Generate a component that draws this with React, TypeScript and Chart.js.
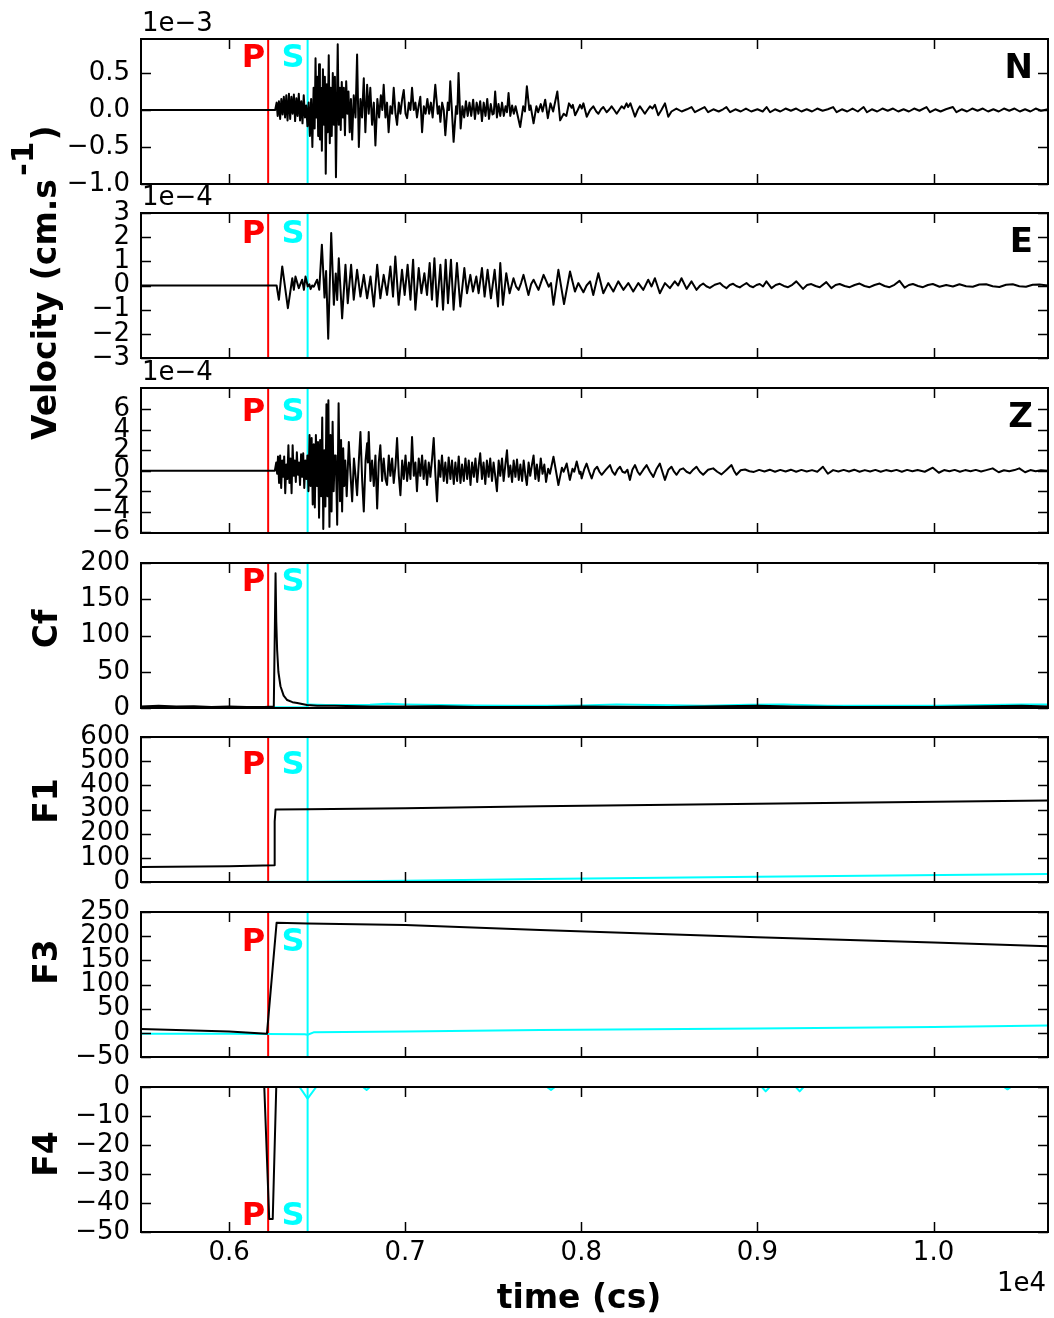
import React, { useEffect, useRef } from 'react';
import { Chart, registerables } from 'chart.js';

Chart.register(...registerables);

const FONT = '"DejaVu Sans", sans-serif';

// ---------------- data ----------------
const xMin = 5500;
const xMax = 10650;
const xTickValues = [6000, 7000, 8000, 9000, 10000];
const xTickLabels = ['0.6', '0.7', '0.8', '0.9', '1.0'];
const pickP = 6222;
const pickS = 6446;

// North component, units of 1e-3 cm/s
const northTrace: [number, number][] = [
  [5500, 0], [6262, 0], [6270, 0.1], [6276, -0.08], [6283, 0.12], [6290, -0.12], [6297, 0.15], [6304, -0.06],
  [6311, 0.18], [6318, -0.1], [6325, 0.2], [6332, -0.14], [6340, 0.22], [6347, -0.12], [6354, 0.18], [6361, -0.05],
  [6368, 0.21], [6375, -0.15], [6382, 0.16], [6389, -0.08], [6396, 0.22], [6403, -0.14], [6410, 0.12], [6417, -0.18],
  [6424, 0.2], [6431, -0.1], [6438, 0.06], [6445, -0.22], [6452, 0.1], [6459, -0.35], [6466, 0.15], [6473, -0.5],
  [6480, 0.3], [6486, -0.25], [6491, 0.7], [6496, -0.1], [6501, 0.45], [6506, -0.35], [6511, 0.62], [6516, -0.4],
  [6521, 0.3], [6527, -0.55], [6533, 0.55], [6539, -0.2], [6544, 0.45], [6549, -0.86], [6555, 0.35], [6560, -0.3],
  [6566, 0.74], [6572, -0.45], [6577, 0.3], [6583, -0.35], [6589, 0.5], [6595, -0.2], [6601, 0.45], [6607, -0.91],
  [6617, 0.89], [6623, -0.2], [6629, 0.3], [6634, -0.27], [6640, 0.38], [6646, -0.1], [6652, 0.3], [6658, -0.34],
  [6665, 0.39], [6672, -0.05], [6678, 0.25], [6685, -0.3], [6692, 0.15], [6699, -0.4], [6708, 0.2], [6718, -0.1],
  [6727, 0.75], [6737, -0.5], [6746, 0.15], [6755, -0.1], [6765, 0.43], [6774, -0.3], [6784, 0.34], [6793, -0.05],
  [6802, 0.3], [6812, -0.2], [6822, 0.1], [6831, -0.48], [6842, 0.15], [6852, -0.1], [6862, 0.2], [6870, 0.0],
  [6878, 0.34], [6888, -0.1], [6897, 0.1], [6906, -0.3], [6916, 0.05], [6926, -0.05], [6935, 0.3], [6945, -0.05],
  [6954, -0.2], [6964, 0.1], [6973, -0.05], [6983, 0.15], [6992, 0.27], [7002, -0.05], [7011, -0.11], [7021, 0.1],
  [7030, 0.0], [7039, 0.3], [7049, 0.0], [7058, 0.1], [7067, -0.1], [7076, 0.05], [7086, 0.18], [7096, -0.3],
  [7106, 0.05], [7116, -0.05], [7126, 0.15], [7136, -0.05], [7146, 0.1], [7156, -0.1], [7171, 0.34], [7185, -0.05],
  [7193, 0.05], [7200, -0.16], [7210, 0.1], [7219, 0.0], [7228, -0.34], [7242, 0.1], [7249, 0.0], [7256, 0.39],
  [7275, -0.43], [7289, 0.05], [7296, -0.05], [7303, 0.5], [7315, -0.25], [7325, 0.05], [7335, -0.1], [7345, 0.12],
  [7355, -0.08], [7365, 0.1], [7375, -0.08], [7386, 0.14], [7396, -0.12], [7406, 0.1], [7416, -0.05], [7426, 0.12],
  [7436, -0.15], [7446, 0.1], [7456, -0.08], [7466, 0.15], [7476, -0.12], [7486, 0.08], [7496, -0.06], [7503, -0.05],
  [7511, 0.25], [7521, -0.1], [7530, 0.08], [7540, -0.08], [7550, 0.1], [7560, -0.08], [7570, 0.05], [7578, -0.03],
  [7587, 0.23], [7597, -0.08], [7607, 0.06], [7617, -0.05], [7627, 0.05], [7653, -0.23], [7670, 0.05], [7680, -0.02],
  [7691, 0.32], [7705, 0.0], [7712, 0.06], [7729, -0.18], [7745, 0.05], [7755, -0.03], [7770, 0.08], [7780, -0.02],
  [7795, 0.14], [7810, -0.11], [7825, 0.09], [7840, -0.02], [7864, 0.25], [7880, -0.14], [7900, -0.05], [7915, -0.08],
  [7930, 0.09], [7945, 0.03], [7952, 0.07], [7965, -0.07], [7980, 0.0], [7993, 0.07], [8003, 0.02], [8012, 0.09],
  [8031, -0.09], [8050, 0.0], [8068, 0.05], [8085, -0.02], [8097, -0.05], [8112, 0.01], [8125, 0.04], [8144, -0.03],
  [8160, 0.01], [8172, 0.05], [8187, 0.0], [8201, -0.05], [8215, 0.0], [8229, 0.05], [8243, 0.02], [8257, 0.09],
  [8266, 0.04], [8279, 0.09], [8292, 0.0], [8305, -0.09], [8320, 0.0], [8333, 0.05], [8347, 0.0], [8361, -0.05],
  [8375, 0.0], [8390, 0.05], [8404, 0.02], [8418, 0.07], [8437, -0.07], [8455, 0.0], [8475, 0.09], [8494, -0.09],
  [8512, -0.02], [8540, 0.02], [8570, -0.02], [8600, 0.01], [8626, 0.04], [8645, -0.03], [8675, 0.01], [8700, 0.04],
  [8720, -0.03], [8750, 0.01], [8780, -0.02], [8805, 0.01], [8824, 0.04], [8845, -0.03], [8875, 0.01], [8905, -0.02],
  [8935, 0.02], [8965, -0.02], [9000, 0.01], [9030, -0.02], [9052, 0.04], [9072, -0.03], [9100, 0.01], [9130, -0.02],
  [9160, 0.02], [9190, -0.01], [9220, 0.02], [9250, -0.02], [9280, 0.01], [9310, -0.02], [9340, 0.02], [9370, -0.01],
  [9400, 0.01], [9430, 0.04], [9450, -0.03], [9480, 0.01], [9510, -0.02], [9540, 0.02], [9570, -0.02], [9603, 0.04],
  [9622, -0.03], [9650, 0.01], [9680, -0.02], [9710, 0.02], [9740, -0.01], [9770, 0.02], [9800, -0.02], [9830, 0.01],
  [9860, -0.02], [9890, 0.02], [9920, -0.01], [9960, 0.04], [9980, -0.03], [10010, 0.01], [10040, -0.02], [10070, 0.01],
  [10110, 0.04], [10130, -0.03], [10160, 0.01], [10190, -0.02], [10220, 0.02], [10250, -0.01], [10280, 0.02], [10310, -0.02],
  [10340, 0.01], [10370, -0.02], [10400, 0.02], [10430, -0.01], [10460, 0.02], [10490, -0.02], [10520, 0.01], [10550, -0.02],
  [10580, 0.02], [10610, -0.01], [10650, 0.01],
];

// East component, units of 1e-4 cm/s
const eastTrace: [number, number][] = [
  [5500, 0], [6270, 0], [6283, -0.59], [6302, 0.79], [6334, -0.94], [6359, 0.3], [6368, -0.18], [6377, 0.37],
  [6396, -0.11], [6415, 0.24], [6425, -0.18], [6434, 0.37], [6447, -0.04], [6456, 0.05], [6463, -0.15], [6472, 0.0],
  [6481, -0.05], [6500, 0.24], [6512, -0.18], [6527, 1.69], [6542, -0.5], [6551, 0.6], [6563, -2.2], [6580, 2.17],
  [6595, -0.8], [6606, 0.5], [6614, -0.6], [6623, 1.13], [6642, -1.36], [6661, 0.86], [6674, -0.73], [6693, 0.86],
  [6708, -0.59], [6727, 0.65], [6746, -0.46], [6765, 0.44], [6784, -0.53], [6803, 0.37], [6822, -0.87], [6841, 0.86],
  [6859, -0.53], [6878, 0.44], [6897, -0.39], [6916, 0.79], [6931, -0.46], [6944, 1.2], [6963, -0.8], [6982, 0.65],
  [6997, -0.39], [7014, 0.86], [7030, -0.59], [7045, 1.07], [7058, -1.0], [7077, 0.72], [7092, -0.32], [7109, 0.51],
  [7124, -0.39], [7139, 0.93], [7152, -0.59], [7166, 1.13], [7181, -0.87], [7200, 0.86], [7215, -1.0], [7230, 1.07],
  [7243, -0.73], [7260, 1.07], [7275, -1.0], [7294, 0.93], [7313, -0.87], [7336, 0.72], [7351, -0.32], [7370, 0.44],
  [7385, -0.25], [7404, 0.37], [7417, -0.32], [7436, 0.72], [7451, -0.46], [7468, 0.65], [7487, -0.53], [7508, 0.65],
  [7527, -0.87], [7540, 0.93], [7555, -0.8], [7574, 0.51], [7593, -0.32], [7615, 0.3], [7630, -0.05], [7644, -0.18],
  [7658, 0.1], [7672, 0.44], [7700, -0.39], [7715, 0.05], [7729, 0.24], [7757, -0.18], [7786, 0.44], [7815, -0.05],
  [7828, 0.1], [7842, -0.8], [7870, 0.65], [7902, -0.77], [7936, 0.58], [7964, -0.25], [7983, 0.1], [8012, -0.28],
  [8030, 0.0], [8050, 0.17], [8068, -0.39], [8097, 0.51], [8125, -0.32], [8153, 0.1], [8182, -0.25], [8210, 0.17],
  [8239, -0.18], [8267, 0.1], [8295, -0.25], [8324, 0.1], [8352, -0.18], [8380, 0.24], [8399, -0.04], [8418, 0.3],
  [8446, -0.32], [8475, 0.1], [8503, -0.11], [8531, 0.17], [8550, 0.0], [8569, 0.3], [8598, -0.14], [8626, 0.17],
  [8654, -0.18], [8675, 0.0], [8692, 0.08], [8710, -0.03], [8730, -0.1], [8758, 0.03], [8787, 0.1], [8805, -0.02],
  [8824, -0.11], [8843, 0.02], [8862, 0.07], [8880, -0.02], [8900, -0.08], [8920, 0.02], [8938, 0.1], [8957, -0.02],
  [8976, -0.07], [8995, 0.02], [9013, 0.06], [9032, -0.04], [9051, 0.17], [9080, -0.11], [9104, 0.02], [9127, 0.07],
  [9150, -0.02], [9174, -0.07], [9198, 0.03], [9221, 0.17], [9259, -0.14], [9282, 0.02], [9306, 0.06], [9330, -0.02],
  [9354, -0.07], [9391, 0.14], [9420, -0.11], [9444, 0.02], [9467, 0.06], [9495, -0.02], [9524, -0.07], [9552, 0.02],
  [9580, 0.08], [9608, -0.02], [9637, -0.07], [9665, 0.02], [9694, 0.08], [9722, -0.02], [9750, -0.07], [9778, 0.03],
  [9807, 0.19], [9836, -0.09], [9860, 0.02], [9883, 0.06], [9912, -0.02], [9940, -0.07], [9968, 0.02], [9996, 0.06],
  [10034, -0.05], [10072, 0.02], [10110, -0.04], [10147, 0.05], [10185, -0.03], [10223, -0.05], [10260, 0.04], [10299, 0.05],
  [10336, -0.03], [10374, -0.06], [10412, 0.03], [10450, 0.05], [10487, -0.03], [10525, -0.05], [10563, 0.03], [10601, 0.04],
  [10650, 0.0],
];

// Vertical component, units of 1e-4 cm/s
const verticalTrace: [number, number][] = [
  [5500, 0], [6260, 0], [6268, 0.8], [6273, -0.3], [6278, 1.4], [6284, -1.2], [6290, 1.5], [6296, -1.7],
  [6302, 1.0], [6308, -0.6], [6313, 1.4], [6319, -2.2], [6325, 0.6], [6331, -0.8], [6337, 2.5], [6343, -1.2],
  [6349, 1.2], [6355, -2.2], [6361, 2.5], [6367, -0.5], [6373, 1.0], [6379, -1.1], [6385, 1.8], [6391, -0.4],
  [6397, 0.8], [6403, -1.4], [6409, 1.6], [6415, -0.6], [6421, 1.7], [6427, -1.7], [6433, 1.0], [6439, -0.8],
  [6445, 1.5], [6451, -2.0], [6457, 3.5], [6463, -1.5], [6469, 3.2], [6475, -3.3], [6481, 2.6], [6487, -3.6],
  [6493, 3.5], [6499, -1.5], [6505, 2.8], [6511, -4.6], [6517, 3.0], [6523, -2.5], [6529, 5.2], [6535, -5.7],
  [6541, 2.0], [6547, -3.5], [6553, 6.5], [6559, -2.5], [6564, 6.9], [6570, -5.5], [6576, 3.5], [6582, -4.0],
  [6588, 4.8], [6594, -2.0], [6600, 1.5], [6606, 1.5], [6614, -5.3], [6622, 6.6], [6630, -3.0], [6636, 3.0],
  [6642, -4.0], [6648, 2.2], [6654, -1.5], [6660, 1.0], [6668, -2.5], [6680, 2.8], [6690, -0.5], [6699, -3.0],
  [6709, 1.2], [6718, -0.5], [6727, -2.4], [6737, 1.0], [6746, 3.8], [6756, -1.0], [6765, -4.0], [6775, 1.0],
  [6784, 2.7], [6788, 0.8], [6793, 3.8], [6803, -1.0], [6812, 1.0], [6822, -1.5], [6831, 1.5], [6841, -3.7],
  [6850, 0.8], [6859, 2.5], [6869, -1.0], [6878, 1.2], [6888, -0.8], [6897, -1.4], [6907, 1.5], [6916, -0.5],
  [6926, 1.2], [6935, -1.2], [6945, 0.5], [6954, 3.2], [6964, -0.5], [6973, -2.4], [6983, 1.0], [6992, -0.8],
  [7002, 1.5], [7011, -1.0], [7021, 0.8], [7030, -0.8], [7039, 3.3], [7049, -0.5], [7058, 0.8], [7067, -2.0],
  [7077, 1.2], [7086, -0.5], [7096, 1.5], [7105, -0.8], [7115, 1.0], [7124, -1.4], [7134, 0.8], [7143, -0.6],
  [7153, 1.2], [7162, 3.2], [7172, -0.5], [7181, -3.0], [7191, 1.0], [7200, -0.6], [7209, 1.5], [7219, -1.0],
  [7228, 0.8], [7238, -1.2], [7247, 1.3], [7257, -0.8], [7266, 1.0], [7276, -1.3], [7285, 0.8], [7295, -1.0],
  [7304, 1.4], [7314, -1.2], [7323, 0.6], [7333, -1.0], [7342, 1.2], [7352, -0.8], [7361, 1.0], [7371, -1.4],
  [7380, 0.8], [7390, -0.6], [7399, 1.2], [7409, -1.1], [7418, 0.6], [7426, 1.7], [7436, -0.8], [7445, 0.8],
  [7455, -1.3], [7464, 1.0], [7474, -0.6], [7483, 1.2], [7493, -1.0], [7502, 0.8], [7512, -0.6], [7521, -2.0],
  [7531, 1.0], [7540, -0.5], [7550, 1.2], [7559, -1.0], [7569, 0.6], [7578, 2.0], [7588, -0.6], [7597, 0.5],
  [7607, -1.1], [7616, 1.0], [7626, -0.6], [7635, 1.1], [7645, -0.9], [7654, 0.6], [7664, -1.0], [7673, 1.0],
  [7683, -0.5], [7691, -1.4], [7701, 0.8], [7710, -0.5], [7720, 0.6], [7729, 1.5], [7739, -0.8], [7748, 0.6],
  [7758, -1.0], [7770, 1.2], [7780, -0.3], [7790, 0.6], [7800, -1.1], [7812, 0.2], [7822, -0.3], [7842, 1.37],
  [7856, 0.0], [7870, -1.4], [7890, 0.3], [7900, -0.1], [7917, 0.7], [7935, -0.9], [7950, 0.2], [7960, -0.1],
  [7974, 0.9], [7990, -0.3], [7996, -0.1], [8002, -0.75], [8016, 0.1], [8030, 0.7], [8045, -0.1], [8059, -0.75],
  [8075, 0.1], [8090, 0.39], [8103, -0.1], [8116, -0.4], [8140, 0.1], [8163, 0.55], [8177, -0.1], [8191, -0.4],
  [8205, 0.1], [8220, 0.39], [8234, -0.1], [8248, -0.2], [8262, 0.1], [8276, -0.9], [8290, 0.1], [8305, 0.55],
  [8320, -0.1], [8333, -0.4], [8352, 0.1], [8371, 0.55], [8390, -0.1], [8409, -0.6], [8428, 0.2], [8446, 0.7],
  [8462, -0.2], [8475, -0.9], [8495, 0.1], [8512, 0.39], [8527, -0.1], [8541, -0.4], [8560, 0.1], [8579, 0.23],
  [8598, -0.1], [8617, -0.26], [8635, 0.1], [8654, 0.39], [8673, -0.1], [8692, -0.4], [8720, 0.1], [8749, 0.23],
  [8772, -0.1], [8796, -0.36], [8825, 0.1], [8853, 0.55], [8867, 0.0], [8881, -0.4], [8905, 0.05], [8930, 0.12],
  [8955, -0.05], [8980, -0.12], [9010, 0.08], [9040, -0.08], [9070, 0.1], [9100, -0.1], [9130, 0.08], [9160, -0.08],
  [9190, 0.1], [9220, -0.1], [9250, 0.08], [9280, -0.08], [9310, 0.06], [9340, -0.1], [9372, 0.39], [9400, -0.3],
  [9430, 0.06], [9460, -0.08], [9490, 0.08], [9520, -0.08], [9550, 0.1], [9580, -0.1], [9610, 0.06], [9640, -0.08],
  [9670, 0.08], [9700, -0.1], [9730, 0.06], [9760, -0.06], [9790, 0.08], [9820, -0.1], [9850, 0.08], [9880, -0.06],
  [9910, 0.06], [9950, -0.1], [9996, 0.3], [10030, -0.2], [10060, 0.06], [10090, -0.06], [10120, 0.08], [10150, -0.1],
  [10180, 0.06], [10210, -0.06], [10240, 0.08], [10270, -0.08], [10300, 0.06], [10336, 0.23], [10370, -0.15], [10400, 0.05],
  [10430, -0.06], [10460, 0.06], [10487, 0.23], [10520, -0.15], [10550, 0.06], [10580, -0.06], [10610, 0.05], [10650, 0.0],
];

// Characteristic function (black: P, cyan: S)
const cfP: [number, number][] = [
  [5500, 2], [5600, 3], [5700, 2], [5800, 2.5], [5900, 1.5], [6000, 2], [6100, 1.5], [6200, 1.5], [6254, 2],
  [6260, 110], [6264, 186], [6268, 120], [6273, 80], [6280, 50], [6292, 30], [6310, 17], [6330, 11], [6360, 8],
  [6387, 7], [6443, 4], [6500, 3], [6600, 3], [6800, 2], [7000, 2], [7200, 2.5], [7400, 1.5], [7800, 1.5],
  [8000, 2], [8500, 1.5], [9000, 3], [9200, 2], [9500, 1.5], [10000, 1.5], [10500, 3], [10650, 2],
];
const cfS: [number, number][] = [
  [5500, 1], [6000, 1], [6440, 1], [6450, 5], [6550, 4], [6700, 4], [6800, 4.5], [6900, 6], [7000, 5],
  [7200, 4], [7400, 3.5], [7600, 3], [7800, 3], [8000, 3.5], [8200, 5], [8400, 4], [8700, 3], [8950, 4.5],
  [9150, 5], [9400, 3], [9700, 3], [10000, 3], [10300, 4], [10500, 5], [10650, 5],
];
// F1
const f1P: [number, number][] = [
  [5500, 62], [6000, 65], [6256, 69], [6259, 250], [6264, 300], [6446, 301], [7000, 305], [7766, 313],
  [9000, 324], [10650, 337],
];
const f1S: [number, number][] = [
  [5500, 0], [6000, 0.5], [6446, 1], [7000, 5], [7766, 12], [9000, 22], [10650, 33],
];
// F3
const f3P: [number, number][] = [
  [5500, 8], [6000, 3], [6215, -2], [6270, 228], [6446, 226], [7000, 223], [7766, 213], [9000, 198],
  [10000, 187], [10650, 179],
];
const f3S: [number, number][] = [
  [5500, -2], [6000, -2], [6430, -3], [6446, -4], [6480, 1], [7000, 3], [7766, 6], [9000, 9], [10000, 12],
  [10650, 15],
];
// F4
const f4P: [number, number][] = [
  [5500, 0], [6200, 0], [6228, -45.5], [6248, -45.5], [6268, 0], [10650, 0],
];
const f4S: [number, number][] = [
  [5500, 0], [6400, 0], [6446, -4], [6495, 0], [6760, 0], [6781, -1], [6800, 0], [7805, 0], [7828, -1],
  [7850, 0], [9025, 0], [9047, -1.5], [9070, 0], [9218, 0], [9240, -1.5], [9262, 0], [10400, 0], [10420, -0.8],
  [10440, 0], [10650, 0],
];

// Tick values and labels
const nTicks = [0.5, 0, -0.5, -1.0];
const nTickLabels = ['0.5', '0.0', '\u22120.5', '\u22121.0'];
const eTicks = [3, 2, 1, 0, -1, -2, -3];
const eTickLabels = ['3', '2', '1', '0', '\u22121', '\u22122', '\u22123'];
const zTicks = [6, 4, 2, 0, -2, -4, -6];
const zTickLabels = ['6', '4', '2', '0', '\u22122', '\u22124', '\u22126'];
const cfTicks = [200, 150, 100, 50, 0];
const cfTickLabels = ['200', '150', '100', '50', '0'];
const f1Ticks = [600, 500, 400, 300, 200, 100, 0];
const f1TickLabels = ['600', '500', '400', '300', '200', '100', '0'];
const f3Ticks = [250, 200, 150, 100, 50, 0, -50];
const f3TickLabels = ['250', '200', '150', '100', '50', '0', '\u221250'];
const f4Ticks = [0, -10, -20, -30, -40, -50];
const f4TickLabels = ['0', '\u221210', '\u221220', '\u221230', '\u221240', '\u221250'];

// ---------------- layout ----------------
const W = 1054;
const H = 1318;
const PLOT_LEFT = 141;
const PLOT_RIGHT = 1048;
const PANEL_H = 145;
const BOTTOM_AXIS_H = 80;
const panelTops = [39, 213, 388, 563, 737, 912, 1087];

const BLACK = '#000000';
const CYAN = '#00ffff';
const RED = '#ff0000';

type Series = { data: [number, number][]; color: string; width: number };
type PanelDef = {
  yMin: number; yMax: number; ticks: number[]; tickLabels: string[];
  series: Series[]; pickLabelY: number; comp?: string; expo?: string;
  ylabel?: string; ylabelCenter?: number; velocity?: boolean;
};

const panels: PanelDef[] = [
  { yMin: -1.0, yMax: 0.96, ticks: nTicks, tickLabels: nTickLabels, series: [{ data: northTrace, color: BLACK, width: 2 }], pickLabelY: 0.575, comp: 'N', expo: '1e\u22123' },
  { yMin: -3, yMax: 3, ticks: eTicks, tickLabels: eTickLabels, series: [{ data: eastTrace, color: BLACK, width: 2 }], pickLabelY: 1.75, comp: 'E', expo: '1e\u22124', velocity: true },
  { yMin: -6.1, yMax: 8.1, ticks: zTicks, tickLabels: zTickLabels, series: [{ data: verticalTrace, color: BLACK, width: 2 }], pickLabelY: 4.85, comp: 'Z', expo: '1e\u22124' },
  { yMin: 0, yMax: 200, ticks: cfTicks, tickLabels: cfTickLabels, series: [{ data: cfP, color: BLACK, width: 2 }, { data: cfS, color: CYAN, width: 2 }], pickLabelY: 161, ylabel: 'Cf', ylabelCenter: 629 },
  { yMin: 0, yMax: 600, ticks: f1Ticks, tickLabels: f1TickLabels, series: [{ data: f1P, color: BLACK, width: 2 }, { data: f1S, color: CYAN, width: 2 }], pickLabelY: 447, ylabel: 'F1', ylabelCenter: 801 },
  { yMin: -50, yMax: 250, ticks: f3Ticks, tickLabels: f3TickLabels, series: [{ data: f3P, color: BLACK, width: 2 }, { data: f3S, color: CYAN, width: 2 }], pickLabelY: 170, ylabel: 'F3', ylabelCenter: 962 },
  { yMin: -50, yMax: 0, ticks: f4Ticks, tickLabels: f4TickLabels, series: [{ data: f4P, color: BLACK, width: 2 }, { data: f4S, color: CYAN, width: 2 }], pickLabelY: -47.6, ylabel: 'F4', ylabelCenter: 1154 },
];

function labelFor(values: number[], labels: string[], v: number): string {
  for (let i = 0; i < values.length; i++) {
    if (Math.abs(values[i] - v) < 1e-9) return labels[i];
  }
  return '';
}

function makeDecor(p: PanelDef, isBottom: boolean) {
  return {
    id: 'decor',
    afterDraw(chart: any) {
      const { ctx, chartArea: a, scales } = chart;
      const xs = scales.x;
      const ys = scales.y;
      ctx.save();
      // axes frame
      ctx.strokeStyle = '#000';
      ctx.lineWidth = 2;
      ctx.strokeRect(a.left, a.top, a.right - a.left, a.bottom - a.top);
      // inward ticks
      ctx.lineWidth = 1.5;
      ctx.beginPath();
      for (const v of xTickValues) {
        const px = Math.round(xs.getPixelForValue(v)) + 0.5;
        ctx.moveTo(px, a.top); ctx.lineTo(px, a.top + 10);
        ctx.moveTo(px, a.bottom); ctx.lineTo(px, a.bottom - 10);
      }
      for (const v of p.ticks) {
        const py = Math.round(ys.getPixelForValue(v)) + 0.5;
        ctx.moveTo(a.left, py); ctx.lineTo(a.left + 10, py);
        ctx.moveTo(a.right, py); ctx.lineTo(a.right - 10, py);
      }
      ctx.stroke();

      // P / S labels
      ctx.font = `bold 32px ${FONT}`;
      ctx.textBaseline = 'alphabetic';
      ctx.textAlign = 'right';
      const ly = ys.getPixelForValue(p.pickLabelY);
      ctx.fillStyle = RED;
      ctx.fillText('P', xs.getPixelForValue(pickP) - 3, ly);
      ctx.fillStyle = CYAN;
      ctx.fillText('S', xs.getPixelForValue(pickS) - 3, ly);

      ctx.fillStyle = '#000';
      if (p.comp) {
        ctx.font = `bold 34px ${FONT}`;
        ctx.textAlign = 'right';
        ctx.fillText(p.comp, a.right - 15, a.top + 39);
      }
      if (p.expo) {
        ctx.font = `26px ${FONT}`;
        ctx.textAlign = 'left';
        ctx.fillText(p.expo, a.left + 1, a.top - 8);
      }
      if (p.ylabel && p.ylabelCenter) {
        ctx.save();
        ctx.font = `bold 33px ${FONT}`;
        ctx.textAlign = 'center';
        ctx.translate(57, p.ylabelCenter);
        ctx.rotate(-Math.PI / 2);
        ctx.fillText(p.ylabel, 0, 0);
        ctx.restore();
      }
      if (p.velocity) {
        ctx.save();
        ctx.translate(56, 440);
        ctx.rotate(-Math.PI / 2);
        ctx.textAlign = 'left';
        ctx.font = `bold 33px ${FONT}`;
        const main = 'Velocity (cm.s';
        ctx.fillText(main, 0, 0);
        let w = ctx.measureText(main).width + 3;
        ctx.font = `bold 31px ${FONT}`;
        ctx.fillText('-1', w, -23);
        w += ctx.measureText('-1').width + 1;
        ctx.font = `bold 33px ${FONT}`;
        ctx.fillText(')', w, 0);
        ctx.restore();
      }
      if (isBottom) {
        ctx.font = `26px ${FONT}`;
        ctx.textAlign = 'right';
        ctx.fillText('1e4', 1046, 1291);
        ctx.font = `bold 33px ${FONT}`;
        ctx.textAlign = 'center';
        ctx.fillText('time (cs)', 579, 1308);
      }
      ctx.restore();
    },
  };
}

function buildConfig(index: number): any {
  const p = panels[index];
  const isBottom = index === panels.length - 1;
  const top = panelTops[index];
  const axisH = isBottom ? BOTTOM_AXIS_H : 0;
  const datasets: any[] = p.series.map((s) => ({
    data: s.data.map(([x, y]) => ({ x, y })),
    borderColor: s.color,
    borderWidth: s.width,
    pointRadius: 0,
    fill: false,
    tension: 0,
    borderJoinStyle: 'round',
  }));
  datasets.push({
    data: [{ x: pickP, y: p.yMin }, { x: pickP, y: p.yMax }],
    borderColor: RED, borderWidth: 2, pointRadius: 0, fill: false,
  });
  datasets.push({
    data: [{ x: pickS, y: p.yMin }, { x: pickS, y: p.yMax }],
    borderColor: CYAN, borderWidth: 2, pointRadius: 0, fill: false,
  });
  return {
    type: 'line',
    data: { datasets },
    options: {
      animation: false,
      responsive: false,
      events: [],
      layout: {
        autoPadding: false,
        padding: { left: 0, top, right: W - PLOT_RIGHT, bottom: H - (top + PANEL_H) - axisH },
      },
      plugins: { legend: { display: false }, tooltip: { enabled: false }, title: { display: false } },
      scales: {
        x: {
          type: 'linear',
          min: xMin,
          max: xMax,
          position: 'bottom',
          afterBuildTicks: (s: any) => { s.ticks = xTickValues.map((v) => ({ value: v })); },
          afterFit: (s: any) => { s.height = axisH; },
          grid: { display: false, drawTicks: false },
          border: { display: false },
          ticks: {
            display: isBottom,
            autoSkip: false,
            maxRotation: 0,
            minRotation: 0,
            padding: 6,
            color: '#000',
            font: { family: FONT, size: 26 },
            callback: (v: number) => labelFor(xTickValues, xTickLabels, v),
          },
        },
        y: {
          type: 'linear',
          min: p.yMin,
          max: p.yMax,
          afterBuildTicks: (s: any) => { s.ticks = p.ticks.map((v) => ({ value: v })); },
          afterFit: (s: any) => { s.width = PLOT_LEFT; },
          grid: { display: false, drawTicks: false },
          border: { display: false },
          ticks: {
            autoSkip: false,
            padding: 11,
            color: '#000',
            font: { family: FONT, size: 26 },
            callback: (v: number) => labelFor(p.ticks, p.tickLabels, v),
          },
        },
      },
    },
    plugins: [makeDecor(p, isBottom)],
  };
}

function Panel({ index }: { index: number }) {
  const ref = useRef<HTMLCanvasElement | null>(null);
  useEffect(() => {
    if (!ref.current) return;
    const chart = new Chart(ref.current, buildConfig(index));
    return () => chart.destroy();
  }, [index]);
  return (
    <canvas
      ref={ref}
      width={W}
      height={H}
      style={{ position: 'absolute', left: 0, top: 0, width: W, height: H }}
    />
  );
}

export default function App() {
  return (
    <div style={{ position: 'absolute', left: 0, top: 0, width: W, height: H, background: '#ffffff', overflow: 'hidden' }}>
      {panels.map((_, i) => (
        <Panel key={i} index={i} />
      ))}
    </div>
  );
}
